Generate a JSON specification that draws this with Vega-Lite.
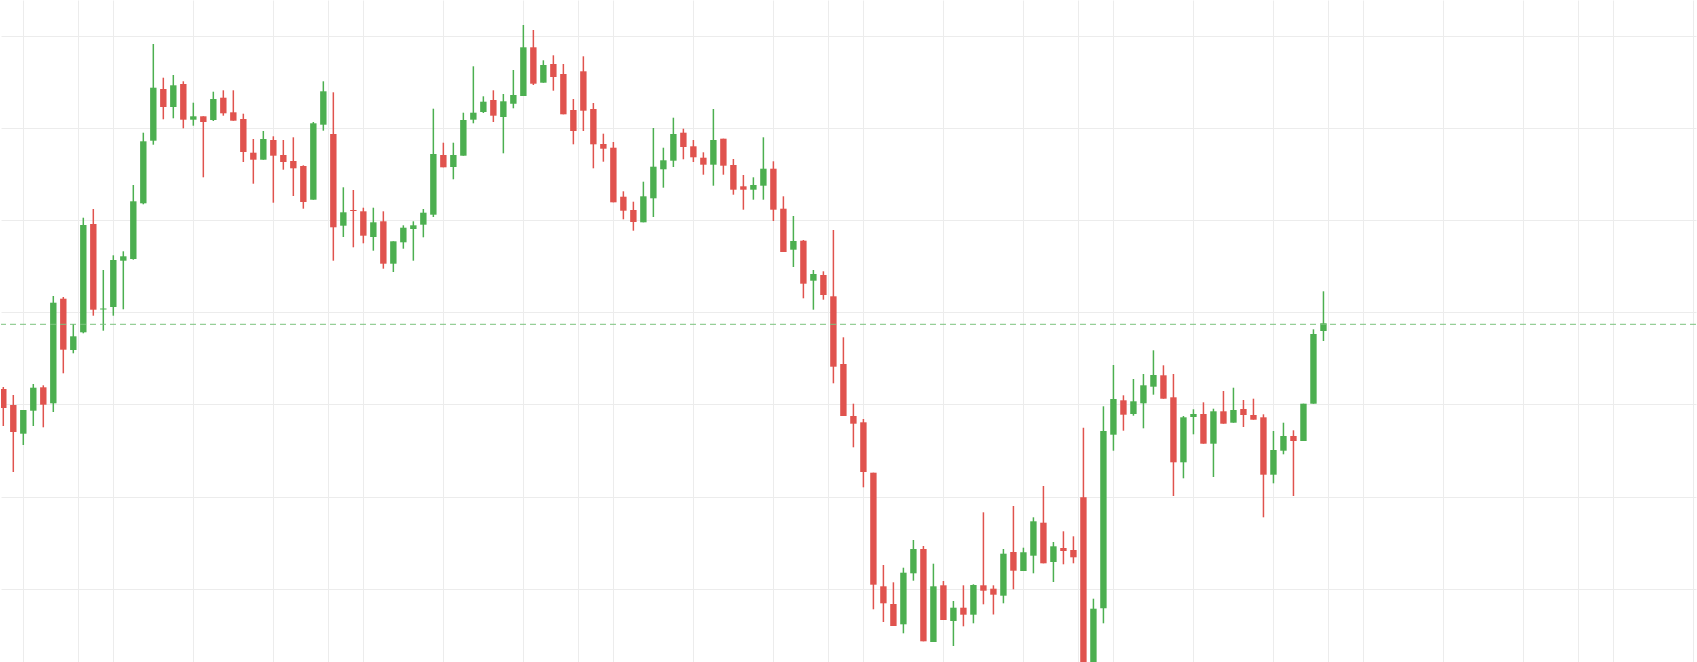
{
  "$schema": "https://vega.github.io/schema/vega-lite/v6.json",
  "width": 1697,
  "height": 662,
  "autosize": {"type": "fit", "contains": "padding"},
  "padding": 0,
  "background": "#ffffff",
  "config": {"view": {"stroke": null}},
  "layer": [
    {
      "data": {"values": [
        {"t":0,"open":273,"high":275,"low":236,"close":254},
        {"t":1,"open":257,"high":267,"low":190,"close":230},
        {"t":2,"open":228.3,"high":252,"low":217,"close":252},
        {"t":3,"open":251.3,"high":278,"low":236,"close":274.3},
        {"t":4,"open":274.7,"high":276.7,"low":234.7,"close":257.3},
        {"t":5,"open":258.7,"high":366,"low":250,"close":359.3},
        {"t":6,"open":363.3,"high":365,"low":288.7,"close":312.3},
        {"t":7,"open":312,"high":338,"low":308.7,"close":325.7},
        {"t":8,"open":329.7,"high":444.3,"low":328.7,"close":437},
        {"t":9,"open":438,"high":453,"low":346.3,"close":352.3},
        {"t":10,"open":352.5,"high":392,"low":331.3,"close":353.5},
        {"t":11,"open":355,"high":406.7,"low":346.3,"close":402},
        {"t":12,"open":401.3,"high":410.7,"low":352.7,"close":405.7},
        {"t":13,"open":403,"high":477,"low":402.3,"close":460.7},
        {"t":14,"open":458.7,"high":529.3,"low":457.7,"close":520.7},
        {"t":15,"open":521.3,"high":618,"low":517.3,"close":574.3},
        {"t":16,"open":573,"high":584.3,"low":542.7,"close":555},
        {"t":17,"open":555,"high":587,"low":543.7,"close":576.7},
        {"t":18,"open":578,"high":580.7,"low":533.7,"close":542.3},
        {"t":19,"open":542.3,"high":559.3,"low":536.3,"close":545.7},
        {"t":20,"open":545.7,"high":545.7,"low":484.7,"close":540},
        {"t":21,"open":542,"high":570.3,"low":541,"close":563},
        {"t":22,"open":564.3,"high":571.7,"low":546.3,"close":548.7},
        {"t":23,"open":549.7,"high":571.7,"low":541.3,"close":541.3},
        {"t":24,"open":543,"high":548.3,"low":500,"close":510},
        {"t":25,"open":509.3,"high":523,"low":478.3,"close":502.3},
        {"t":26,"open":502.3,"high":531,"low":502.3,"close":523},
        {"t":27,"open":522,"high":525.7,"low":459.3,"close":506.3},
        {"t":28,"open":507,"high":522,"low":492.3,"close":500},
        {"t":29,"open":501,"high":524.7,"low":466,"close":493.7},
        {"t":30,"open":496,"high":496.7,"low":453.3,"close":460},
        {"t":31,"open":462.3,"high":540,"low":462.3,"close":538.7},
        {"t":32,"open":537.3,"high":580.7,"low":531.3,"close":570.7},
        {"t":33,"open":528,"high":569.7,"low":401.3,"close":434.7},
        {"t":34,"open":436.3,"high":474.7,"low":425,"close":449.7},
        {"t":35,"open":452,"high":472,"low":414.7,"close":451},
        {"t":36,"open":450.7,"high":454.3,"low":418.7,"close":426.3},
        {"t":37,"open":425,"high":454.3,"low":411.3,"close":439.7},
        {"t":38,"open":440.7,"high":450.7,"low":393.3,"close":398.3},
        {"t":39,"open":398.3,"high":420.7,"low":390,"close":420.7},
        {"t":40,"open":419.7,"high":436.7,"low":413.3,"close":434.3},
        {"t":41,"open":433,"high":440.7,"low":401.3,"close":436.7},
        {"t":42,"open":437.3,"high":453,"low":424.7,"close":449.3},
        {"t":43,"open":447.3,"high":553.3,"low":445,"close":508},
        {"t":44,"open":507,"high":519.3,"low":494.7,"close":494.7},
        {"t":45,"open":495,"high":519.3,"low":482.7,"close":507},
        {"t":46,"open":506.3,"high":549.3,"low":506.3,"close":542},
        {"t":47,"open":542.3,"high":595.7,"low":538.7,"close":549.3},
        {"t":48,"open":550,"high":565.7,"low":549,"close":560.3},
        {"t":49,"open":562,"high":571.7,"low":540,"close":546.3},
        {"t":50,"open":545,"high":568,"low":508.7,"close":560.7},
        {"t":51,"open":558.3,"high":592,"low":553.7,"close":567},
        {"t":52,"open":566,"high":637,"low":566,"close":614.7},
        {"t":53,"open":614.7,"high":632,"low":577,"close":578.3},
        {"t":54,"open":579.3,"high":601.7,"low":579.3,"close":597},
        {"t":55,"open":598,"high":606.7,"low":571.3,"close":585},
        {"t":56,"open":588,"high":598,"low":547.7,"close":547.7},
        {"t":57,"open":552,"high":563,"low":517.7,"close":531},
        {"t":58,"open":590.7,"high":605.7,"low":531,"close":551.3},
        {"t":59,"open":553,"high":559,"low":493.7,"close":517.7},
        {"t":60,"open":518,"high":528.3,"low":500.3,"close":513.3},
        {"t":61,"open":514.3,"high":520,"low":459.7,"close":459.7},
        {"t":62,"open":465.3,"high":470.7,"low":442.7,"close":451.3},
        {"t":63,"open":452,"high":460.3,"low":431.3,"close":440},
        {"t":64,"open":439.7,"high":480.3,"low":439.7,"close":465.7},
        {"t":65,"open":463.7,"high":534,"low":445,"close":495.3},
        {"t":66,"open":492.7,"high":514.3,"low":474.3,"close":501.7},
        {"t":67,"open":501.3,"high":544.3,"low":495,"close":528},
        {"t":68,"open":529.3,"high":533.3,"low":502.7,"close":515},
        {"t":69,"open":515.7,"high":522,"low":500,"close":504.7},
        {"t":70,"open":504.3,"high":509.7,"low":487.3,"close":497.3},
        {"t":71,"open":497.3,"high":553,"low":476.3,"close":522},
        {"t":72,"open":523.3,"high":523.3,"low":487.3,"close":496.3},
        {"t":73,"open":497,"high":503,"low":467.3,"close":472.3},
        {"t":74,"open":475.7,"high":487,"low":452.3,"close":472.3},
        {"t":75,"open":472.3,"high":484.7,"low":462.3,"close":477},
        {"t":76,"open":476.3,"high":524.7,"low":462.3,"close":493.3},
        {"t":77,"open":493.3,"high":500.7,"low":441,"close":452.3},
        {"t":78,"open":453.3,"high":465.7,"low":410,"close":410},
        {"t":79,"open":412.3,"high":446,"low":395,"close":421},
        {"t":80,"open":421.3,"high":422,"low":363.7,"close":378.3},
        {"t":81,"open":381.3,"high":392,"low":352.3,"close":388},
        {"t":82,"open":387,"high":390.7,"low":362.3,"close":367},
        {"t":83,"open":365.7,"high":432,"low":278.7,"close":295.3},
        {"t":84,"open":298,"high":324.7,"low":246,"close":246},
        {"t":85,"open":246,"high":258.3,"low":214.7,"close":238.3},
        {"t":86,"open":239.7,"high":243,"low":174.7,"close":190},
        {"t":87,"open":189.3,"high":189.3,"low":52.7,"close":77.3},
        {"t":88,"open":75.7,"high":97,"low":40,"close":58.7},
        {"t":89,"open":58,"high":79.7,"low":36,"close":36},
        {"t":90,"open":37.7,"high":94.3,"low":28.7,"close":89.3},
        {"t":91,"open":88.7,"high":122,"low":81.3,"close":113},
        {"t":92,"open":113,"high":116,"low":20.7,"close":20.7},
        {"t":93,"open":20,"high":98.3,"low":20,"close":75.7},
        {"t":94,"open":76.7,"high":81,"low":42,"close":42},
        {"t":95,"open":41,"high":61,"low":16,"close":54.3},
        {"t":96,"open":54.3,"high":76.7,"low":35.7,"close":47.3},
        {"t":97,"open":47.3,"high":77.7,"low":38.7,"close":77},
        {"t":98,"open":76.7,"high":149.7,"low":57.7,"close":71.3},
        {"t":99,"open":73.3,"high":76.7,"low":47.5,"close":67.3},
        {"t":100,"open":66.3,"high":113,"low":58.7,"close":108.3},
        {"t":101,"open":110,"high":156,"low":72.7,"close":91.3},
        {"t":102,"open":91,"high":114.3,"low":91,"close":109.7},
        {"t":103,"open":106.3,"high":144.7,"low":88.7,"close":140.7},
        {"t":104,"open":139.3,"high":176,"low":98.7,"close":98.7},
        {"t":105,"open":100,"high":120,"low":80,"close":115.7},
        {"t":106,"open":114,"high":130.7,"low":97.7,"close":111},
        {"t":107,"open":112,"high":125.7,"low":98.7,"close":104.7},
        {"t":108,"open":164.7,"high":234.3,"low":-45,"close":-30},
        {"t":109,"open":-25,"high":63.3,"low":-40,"close":53.3},
        {"t":110,"open":53.7,"high":255.7,"low":38.7,"close":231},
        {"t":111,"open":227.3,"high":297,"low":211.3,"close":263},
        {"t":112,"open":261.7,"high":266.7,"low":231.3,"close":247.3},
        {"t":113,"open":248,"high":283,"low":246.3,"close":260.7},
        {"t":114,"open":258.7,"high":288,"low":233.7,"close":276.7},
        {"t":115,"open":275.3,"high":311.7,"low":267.3,"close":287},
        {"t":116,"open":286.7,"high":296.7,"low":263.3,"close":263.3},
        {"t":117,"open":264.7,"high":288,"low":166,"close":199.7},
        {"t":118,"open":199.7,"high":246,"low":183.7,"close":244.7},
        {"t":119,"open":245,"high":252.7,"low":227.7,"close":248},
        {"t":120,"open":248,"high":259.7,"low":218.3,"close":218.3},
        {"t":121,"open":218.3,"high":253.3,"low":185,"close":250.7},
        {"t":122,"open":250.7,"high":271,"low":238.3,"close":238.3},
        {"t":123,"open":239.3,"high":274.3,"low":239.3,"close":252},
        {"t":124,"open":253,"high":262,"low":235,"close":247},
        {"t":125,"open":247,"high":263.3,"low":242.3,"close":242.3},
        {"t":126,"open":244.7,"high":247.7,"low":144.7,"close":187.3},
        {"t":127,"open":187.3,"high":231,"low":178.7,"close":212},
        {"t":128,"open":211.3,"high":239.3,"low":207.7,"close":226},
        {"t":129,"open":226,"high":231.7,"low":166,"close":221},
        {"t":130,"open":221,"high":258.3,"low":221,"close":258.3},
        {"t":131,"open":258.3,"high":332.7,"low":258.3,"close":328},
        {"t":132,"open":331,"high":370.7,"low":321,"close":338.7}
      ]},
      "layer": [
        {
          "mark": {"type": "rule", "strokeWidth": 1.5, "clip": true},
          "encoding": {
            "x": {
              "field": "t", "type": "quantitative",
              "scale": {"domain": [-0.23, 169.25], "nice": false, "zero": false, "padding": 0},
              "axis": {"values": [2, 7.5, 11, 19, 27, 32.5, 36, 44, 52, 57.5, 61, 69, 77, 82.5, 86, 94, 102, 107.5, 111, 119, 127, 132.5, 136, 144, 152, 157.5, 161, 169], "grid": true, "gridColor": "#ececec", "gridWidth": 1, "labels": false, "ticks": false, "domain": false, "title": null}
            },
            "y": {
              "field": "low", "type": "quantitative",
              "scale": {"domain": [0, 662], "nice": false, "zero": false, "padding": 0},
              "axis": {"values": [73.2, 165.4, 257.6, 349.8, 442, 534.2, 626.4], "grid": true, "gridColor": "#ececec", "gridWidth": 1, "labels": false, "ticks": false, "domain": false, "title": null}
            },
            "y2": {"field": "high"},
            "color": {"condition": {"test": "datum.close >= datum.open", "value": "#4caf50"}, "value": "#e0534e"}
          }
        },
        {
          "mark": {"type": "bar", "size": 6.4, "clip": true},
          "encoding": {
            "x": {"field": "t", "type": "quantitative"},
            "y": {"field": "open", "type": "quantitative"},
            "y2": {"field": "close"},
            "color": {"condition": {"test": "datum.close >= datum.open", "value": "#4caf50"}, "value": "#e0534e"}
          }
        }
      ]
    },
    {
      "data": {"values": [{"level": 337.7}]},
      "mark": {"type": "rule", "color": "#7cc47f", "strokeWidth": 1, "strokeDash": [6, 4]},
      "encoding": {"y": {"field": "level", "type": "quantitative"}}
    }
  ]
}
